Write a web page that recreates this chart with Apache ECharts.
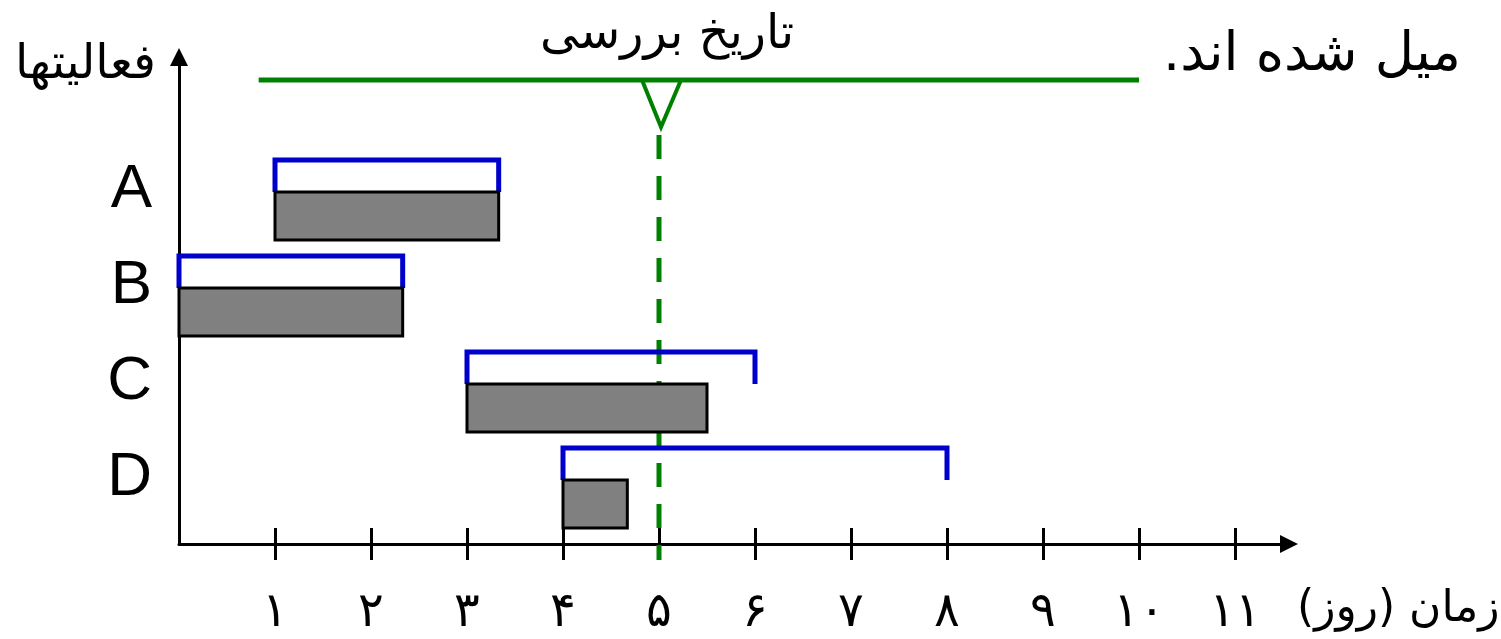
<!DOCTYPE html>
<html>
<head>
<meta charset="utf-8">
<script src="https://cdn.jsdelivr.net/npm/echarts@6/dist/echarts.min.js"></script>
<style>
  html, body { margin: 0; padding: 0; background: #fff; }
  #chart { width: 1501px; height: 639px; }
</style>
</head>
<body>
<div id="chart"></div>
<script>
// activities and their planned / actual spans (days)
const activities = ['A', 'B', 'C', 'D'];
const plannedStart = [1, 0, 3, 4];
const plannedEnd = [3.33, 2.33, 6, 8];
const actualStart = [1, 0, 3, 4];
const actualEnd = [3.33, 2.33, 5.5, 4.67];

// review date marker and its timeline bar
const reviewDay = 5;
const timelineStart = 0.83;
const timelineEnd = 10;

// x tick values and persian labels
const dayTicks = [1, 2, 3, 4, 5, 6, 7, 8, 9, 10, 11];
const dayLabels = ['۱', '۲', '۳', '۴', '۵', '۶', '۷', '۸', '۹', '۱۰', '۱۱'];

const xMax = 11.5625;
const RLM = '\u200F';
const fa = 'DejaVu Sans';

let myChart = echarts.init(document.getElementById('chart'), null, { renderer: 'canvas' });

let ganttData = activities.map(function (a, i) {
    return [i, plannedStart[i], plannedEnd[i], actualStart[i], actualEnd[i]];
});

function renderGantt(params, api) {
    let idx = api.value(0);
    let bandH = api.size([0, 1])[1];
    let c = api.coord([0, idx])[1];
    let top = c - bandH * 0.5;
    let barTop = c - bandH / 6;
    let barBot = c + bandH / 3;
    let p0 = api.coord([api.value(1), idx])[0];
    let p1 = api.coord([api.value(2), idx])[0];
    let a0 = api.coord([api.value(3), idx])[0];
    let a1 = api.coord([api.value(4), idx])[0];
    return {
        type: 'group',
        children: [
            {
                type: 'polyline',
                shape: { points: [[p0, barTop], [p0, top], [p1, top], [p1, barTop]] },
                style: { stroke: '#0000CC', lineWidth: 5, fill: null, lineJoin: 'miter' }
            },
            {
                type: 'rect',
                shape: { x: a0, y: barTop, width: a1 - a0, height: barBot - barTop },
                style: { fill: '#808080', stroke: '#000', lineWidth: 3 }
            }
        ]
    };
}

function renderReview(params, api) {
    let cs = params.coordSys;
    let x = api.coord([api.value(0), 0])[0];
    let xs = api.coord([api.value(1), 0])[0];
    let xe = api.coord([api.value(2), 0])[0];
    let lineY = cs.y - 80;
    let apexY = cs.y - 33;
    return {
        type: 'group',
        children: [
            {
                type: 'line',
                shape: { x1: x, y1: apexY, x2: x, y2: cs.y + cs.height + 16 },
                style: { stroke: '#008000', lineWidth: 5, lineDash: [24, 17], lineDashOffset: 33 }
            },
            {
                type: 'line',
                shape: { x1: xs, y1: lineY, x2: xe, y2: lineY },
                style: { stroke: '#008000', lineWidth: 5 }
            },
            {
                type: 'polyline',
                shape: { points: [[x - 17, lineY], [x + 2, apexY], [x + 22, lineY]] },
                style: { stroke: '#008000', lineWidth: 4, fill: null }
            }
        ]
    };
}

let option = {
    backgroundColor: '#fff',
    animation: false,
    grid: [
        { left: 179, right: 212, top: 160, bottom: 95 },
        { left: 179, right: 212, top: 57, bottom: 95 }
    ],
    xAxis: [
        {
            type: 'value', gridIndex: 0, position: 'bottom', min: 0, max: xMax,
            splitLine: { show: false },
            axisLine: {
                show: true, lineStyle: { color: '#000', width: 3 },
                symbol: ['none', 'triangle'], symbolSize: [18, 18]
            },
            axisTick: { show: true, inside: true, length: 16, lineStyle: { color: '#000', width: 3 }, customValues: dayTicks },
            axisLabel: { show: false }
        },
        {
            type: 'value', gridIndex: 0, position: 'bottom', min: 0, max: xMax,
            splitLine: { show: false },
            axisLine: { show: false },
            axisTick: { show: true, inside: false, length: 16, lineStyle: { color: '#000', width: 3 }, customValues: dayTicks },
            axisLabel: {
                show: true, margin: 46, customValues: dayTicks,
                color: '#000', fontFamily: fa, fontSize: 48,
                formatter: function (v) { return dayLabels[dayTicks.indexOf(v)]; }
            }
        },
        { type: 'value', gridIndex: 1, show: false, min: 0, max: xMax }
    ],
    yAxis: [
        {
            type: 'category', gridIndex: 0, inverse: true, data: activities,
            axisLine: { show: false },
            axisTick: { show: false },
            splitLine: { show: false },
            axisLabel: {
                color: '#000', fontFamily: 'Liberation Sans', fontSize: 62,
                margin: 27, verticalAlign: 'bottom', lineHeight: 36
            }
        },
        {
            type: 'value', gridIndex: 1, min: 0, max: 1,
            axisLine: {
                show: true, lineStyle: { color: '#000', width: 3 },
                symbol: ['none', 'triangle'], symbolSize: [18, 18]
            },
            axisTick: { show: false },
            axisLabel: { show: false },
            splitLine: { show: false }
        }
    ],
    graphic: [
        {
            type: 'text', x: 156, y: 66,
            style: { text: 'فعالیتها', font: '48px "DejaVu Sans"', fill: '#000', align: 'right', verticalAlign: 'middle' }
        },
        {
            type: 'text', x: 667, y: 36,
            style: { text: 'تاریخ بررسی', font: '48px "DejaVu Sans"', fill: '#000', align: 'center', verticalAlign: 'middle' }
        },
        {
            type: 'text', x: 1163, y: 56,
            style: { text: 'میل شده اند.' + RLM, font: '54px "DejaVu Sans"', fill: '#000', align: 'left', verticalAlign: 'middle' }
        },
        {
            type: 'text', x: 1297, y: 610,
            style: { text: RLM + 'زمان (روز)' + RLM, font: '44px "DejaVu Sans"', fill: '#000', align: 'left', verticalAlign: 'middle' }
        }
    ],
    series: [
        {
            type: 'custom', name: 'review', xAxisIndex: 0, yAxisIndex: 0,
            renderItem: renderReview, clip: false, z: 1,
            data: [[reviewDay, timelineStart, timelineEnd]]
        },
        {
            type: 'custom', name: 'gantt', xAxisIndex: 0, yAxisIndex: 0,
            renderItem: renderGantt, clip: false, z: 2,
            encode: { x: [1, 2, 3, 4], y: 0 },
            data: ganttData
        }
    ]
};

myChart.setOption(option);
</script>
</body>
</html>
